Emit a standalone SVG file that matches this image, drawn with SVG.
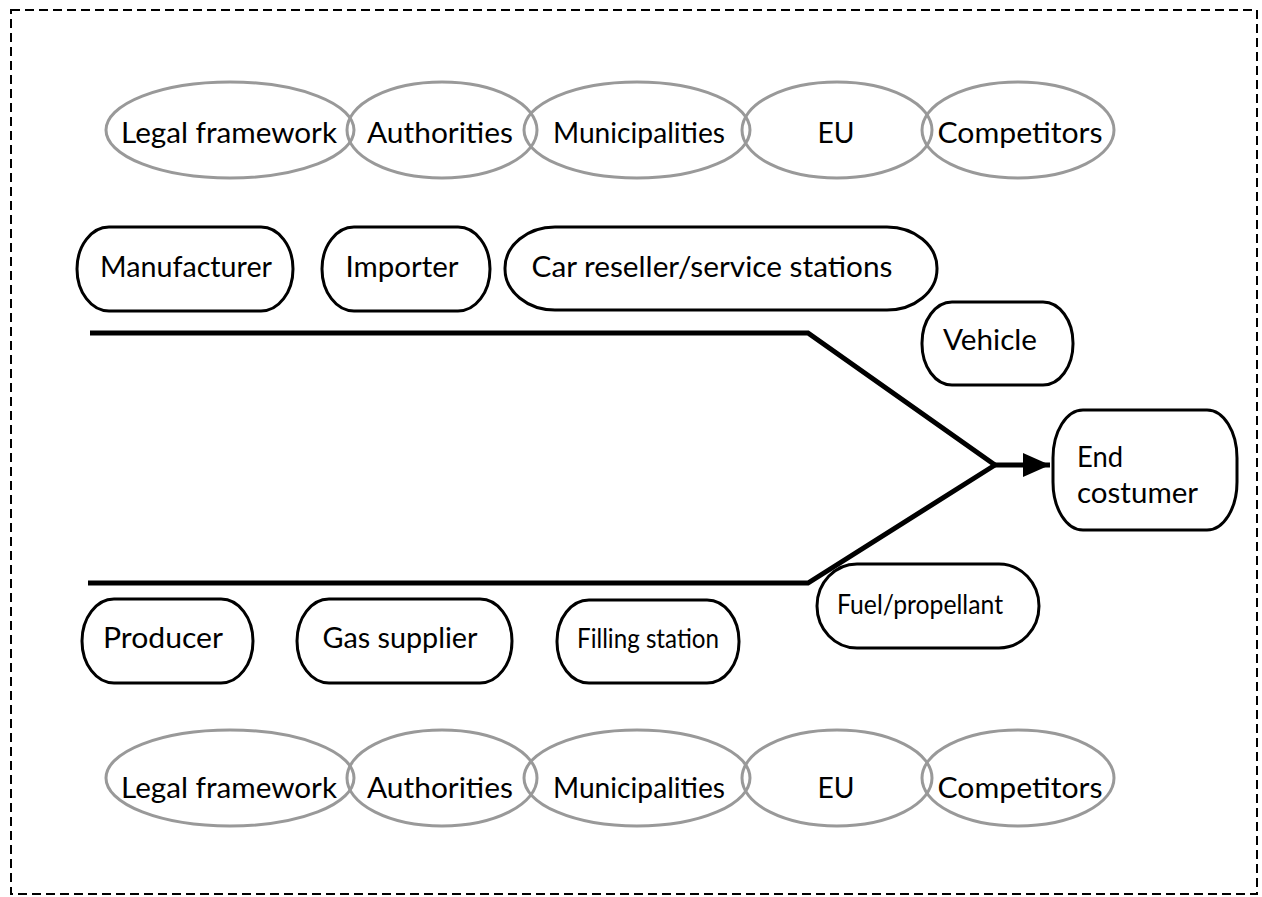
<svg xmlns="http://www.w3.org/2000/svg" width="1262" height="897" viewBox="0 0 1262 897">
<style>
text{font-family:Lato,"Open Sans","Liberation Sans",sans-serif;font-size:29px;fill:#000}
.ell{fill:none;stroke:#999;stroke-width:3}
.box{fill:#fff;stroke:#000;stroke-width:3}
.c{text-anchor:middle}
.s{font-size:26px}
.conn{fill:none;stroke:#000;stroke-width:5;stroke-linejoin:miter}
</style>
<defs>
<marker id="ah" markerWidth="27" markerHeight="24" refX="27" refY="12" orient="auto" markerUnits="userSpaceOnUse" viewBox="0 0 27 24">
<path d="M0,0 L27,12 L0,24 z" fill="#000"/>
</marker>
</defs>
<rect x="11" y="10" width="1246" height="884" fill="none" stroke="#000" stroke-width="2" stroke-dasharray="9,5"/>
<g id="top-context">
<g id="t-legal"><ellipse class="ell" cx="230" cy="130" rx="124" ry="48"/><text class="c" x="229" y="143" textLength="216" lengthAdjust="spacingAndGlyphs">Legal framework</text></g>
<g id="t-auth"><ellipse class="ell" cx="442" cy="130" rx="95" ry="48"/><text class="c" x="440" y="143" textLength="146" lengthAdjust="spacingAndGlyphs">Authorities</text></g>
<g id="t-mun"><ellipse class="ell" cx="637" cy="130" rx="113" ry="48"/><text class="c" x="639" y="143" textLength="172" lengthAdjust="spacingAndGlyphs">Municipalities</text></g>
<g id="t-eu"><ellipse class="ell" cx="837" cy="130" rx="95" ry="48"/><text class="c" x="836" y="143" textLength="37" lengthAdjust="spacingAndGlyphs">EU</text></g>
<g id="t-comp"><ellipse class="ell" cx="1018" cy="130" rx="96" ry="48"/><text class="c" x="1020" y="143" textLength="165" lengthAdjust="spacingAndGlyphs">Competitors</text></g>
</g>
<g id="bottom-context">
<g id="b-legal"><ellipse class="ell" cx="230" cy="778" rx="124" ry="48"/><text class="c" x="229" y="798" textLength="216" lengthAdjust="spacingAndGlyphs">Legal framework</text></g>
<g id="b-auth"><ellipse class="ell" cx="442" cy="778" rx="95" ry="48"/><text class="c" x="440" y="798" textLength="146" lengthAdjust="spacingAndGlyphs">Authorities</text></g>
<g id="b-mun"><ellipse class="ell" cx="637" cy="778" rx="113" ry="48"/><text class="c" x="639" y="798" textLength="172" lengthAdjust="spacingAndGlyphs">Municipalities</text></g>
<g id="b-eu"><ellipse class="ell" cx="837" cy="778" rx="95" ry="48"/><text class="c" x="836" y="798" textLength="37" lengthAdjust="spacingAndGlyphs">EU</text></g>
<g id="b-comp"><ellipse class="ell" cx="1018" cy="778" rx="96" ry="48"/><text class="c" x="1020" y="798" textLength="165" lengthAdjust="spacingAndGlyphs">Competitors</text></g>
</g>
<g id="connectors">
<polyline class="conn" points="90,333 808,333 995,465"/>
<polyline class="conn" points="88,583 808,583 995,465"/>
<line class="conn" x1="993" y1="465" x2="1050" y2="465" marker-end="url(#ah)"/>
</g>
<g id="manufacturer"><rect class="box" x="77" y="227" width="216" height="84" rx="32" ry="42"/><text class="c" x="186" y="277" textLength="172" lengthAdjust="spacingAndGlyphs">Manufacturer</text></g>
<g id="importer"><rect class="box" x="322" y="227" width="168" height="84" rx="32" ry="42"/><text class="c" x="402" y="277" textLength="113" lengthAdjust="spacingAndGlyphs">Importer</text></g>
<g id="car-reseller"><rect class="box" x="505" y="227" width="432" height="83" rx="50" ry="41"/><text class="c" x="712" y="277" textLength="361" lengthAdjust="spacingAndGlyphs">Car reseller/service stations</text></g>
<g id="vehicle"><rect class="box" x="922" y="302" width="151" height="83" rx="30" ry="41"/><text class="c" x="990" y="350" textLength="94" lengthAdjust="spacingAndGlyphs">Vehicle</text></g>
<g id="end-costumer"><rect class="box" x="1053" y="410" width="184" height="120" rx="30" ry="48"/><text x="1077" y="467" textLength="46" lengthAdjust="spacingAndGlyphs">End</text><text x="1077" y="503" textLength="121" lengthAdjust="spacingAndGlyphs">costumer</text></g>
<g id="producer"><rect class="box" x="82" y="599" width="171" height="84" rx="32" ry="42"/><text class="c" x="163" y="648" textLength="120" lengthAdjust="spacingAndGlyphs">Producer</text></g>
<g id="gas-supplier"><rect class="box" x="297" y="599" width="215" height="84" rx="32" ry="42"/><text class="c" x="400" y="648" textLength="155" lengthAdjust="spacingAndGlyphs">Gas supplier</text></g>
<g id="filling-station"><rect class="box" x="557" y="600" width="182" height="83" rx="32" ry="41"/><text class="c s" x="648" y="648" textLength="142" lengthAdjust="spacingAndGlyphs">Filling station</text></g>
<g id="fuel"><rect class="box" x="817" y="564" width="222" height="84" rx="40" ry="42"/><text class="c s" x="920" y="614" textLength="166" lengthAdjust="spacingAndGlyphs">Fuel/propellant</text></g>
</svg>
